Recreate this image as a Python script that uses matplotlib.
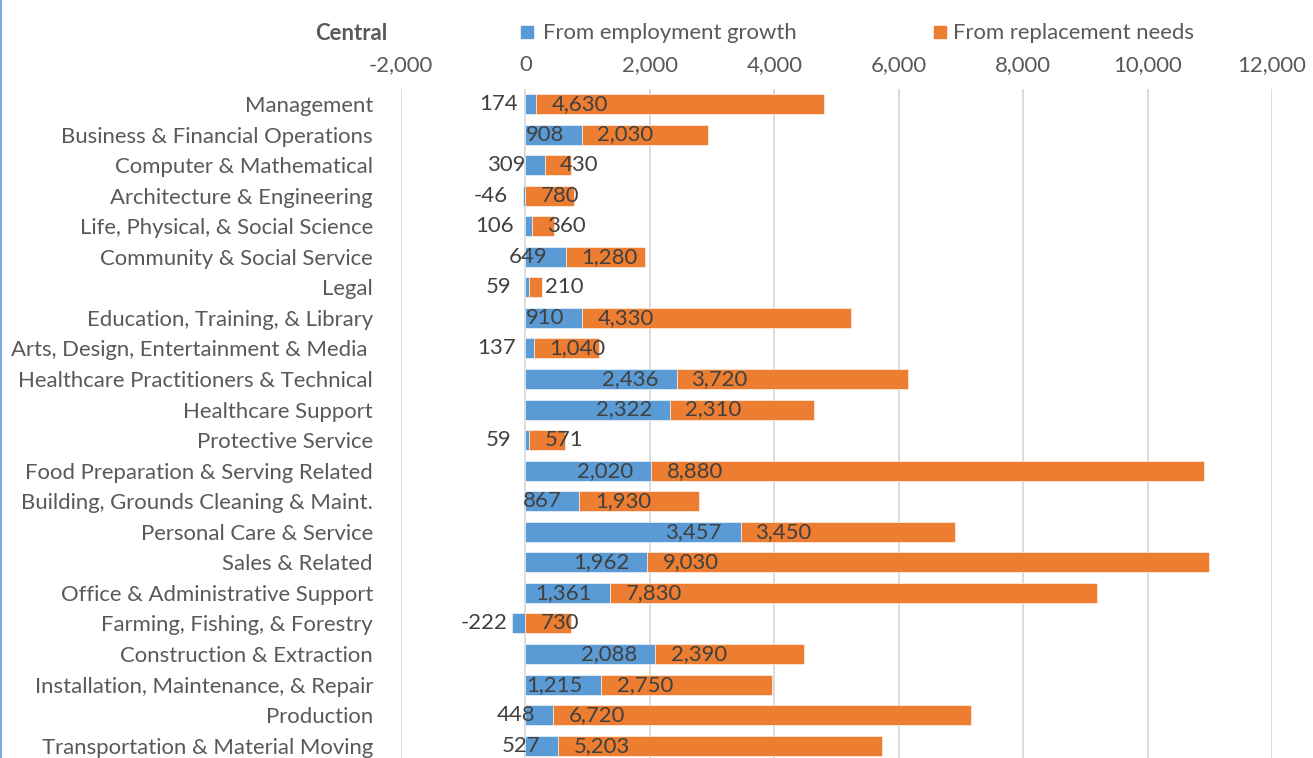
import matplotlib
matplotlib.use("Agg")
import matplotlib.pyplot as plt
from matplotlib.patches import Rectangle
from matplotlib.lines import Line2D

categories = [
    "Management", "Business & Financial Operations", "Computer & Mathematical",
    "Architecture & Engineering", "Life, Physical, & Social Science",
    "Community & Social Service", "Legal", "Education, Training, & Library",
    "Arts, Design, Entertainment & Media ", "Healthcare Practitioners & Technical",
    "Healthcare Support", "Protective Service", "Food Preparation & Serving Related",
    "Building, Grounds Cleaning & Maint.", "Personal Care & Service", "Sales & Related",
    "Office & Administrative Support", "Farming, Fishing, & Forestry",
    "Construction & Extraction", "Installation, Maintenance, & Repair", "Production",
    "Transportation & Material Moving",
]
growth = [174, 908, 309, -46, 106, 649, 59, 910, 137, 2436, 2322, 59, 2020, 867,
          3457, 1962, 1361, -222, 2088, 1215, 448, 527]
replacement = [4630, 2030, 430, 780, 360, 1280, 210, 4330, 1040, 3720, 2310, 571,
               8880, 1930, 3450, 9030, 7830, 730, 2390, 2750, 6720, 5203]
xticks = [-2000, 0, 2000, 4000, 6000, 8000, 10000, 12000]
title = "Central"
series_names = ["From employment growth", "From replacement needs"]

BLUE = "#5B9BD5"
ORANGE = "#ED7D31"
AXTXT = "#595959"
LBLTXT = "#404040"
FONT = ["Lato", "DejaVu Sans"]

W, H, DPI = 1313, 758, 100
fig = plt.figure(figsize=(W / DPI, H / DPI), dpi=DPI)
plt.rcParams["font.family"] = FONT
px = 72.0 / DPI

# fit font size so that the longest label is ~333 px wide (as in the reference)
r = fig.canvas.get_renderer()
t = fig.text(0, 0, "Transportation & Material Moving", fontsize=10)
w10 = t.get_window_extent(r).width
t.remove()
FS = 10 * 333.0 / w10

ax_left, ax_right = 401 / W, 1272 / W
ax_top, ax_bot = 88.7 / H, 761 / H
ax = fig.add_axes([ax_left, 1 - ax_bot, ax_right - ax_left, ax_bot - ax_top])

n = len(categories)
ys = list(range(n))
bh = 0.655
base2 = [max(g, 0) for g in growth]
ax.barh(ys, growth, height=bh, color=BLUE, edgecolor="white", linewidth=0.4, zorder=3)
ax.barh(ys, replacement, left=base2, height=bh, color=ORANGE, edgecolor="white",
        linewidth=0.4, zorder=3)

ax.set_xlim(-2000, 12000)
ax.set_ylim(n - 0.5, -0.5)
ax.set_xticks(xticks)
ax.set_xticklabels([f"{v:,}" for v in xticks], fontsize=FS, color=AXTXT)
ax.xaxis.tick_top()
ax.tick_params(axis="x", length=0, pad=14 * px)
ax.set_yticks(ys)
ax.set_yticklabels(categories, fontsize=FS, color=AXTXT)
ax.tick_params(axis="y", length=0, pad=28 * px)
for s in ax.spines.values():
    s.set_visible(False)
ax.grid(axis="x", color="#D9D9D9", linewidth=1.3, zorder=0)
ax.set_axisbelow(True)

for y, g, rep, b in zip(ys, growth, replacement, base2):
    ax.annotate(f"{g:,}", xy=(b, y), xytext=(-18 * px, 0), textcoords="offset points",
                ha="right", va="center", fontsize=FS, color=LBLTXT, zorder=5)
    ax.annotate(f"{rep:,}", xy=(b, y), xytext=(15.5 * px, 0), textcoords="offset points",
                ha="left", va="center", fontsize=FS, color=LBLTXT, zorder=5)

# title and legend
fig.text(387 / W, 1 - 33 / H, title, fontsize=FS, fontweight="bold", color=AXTXT,
         ha="right", va="center")
sq = 12
for (x0, txt_x), col, name in zip([(521, 543), (934, 953)], [BLUE, ORANGE], series_names):
    fig.patches.append(Rectangle((x0 / W, 1 - (32 + sq / 2) / H), sq / W, sq / H,
                                 transform=fig.transFigure, color=col))
    fig.text(txt_x / W, 1 - 33 / H, name, fontsize=FS, color=AXTXT, ha="left", va="center")

fig.add_artist(Line2D([0.6 / W, 0.6 / W], [0, 1], color="#5B9BD5", linewidth=1.2,
                      transform=fig.transFigure))

fig.savefig("out.png", dpi=DPI)
